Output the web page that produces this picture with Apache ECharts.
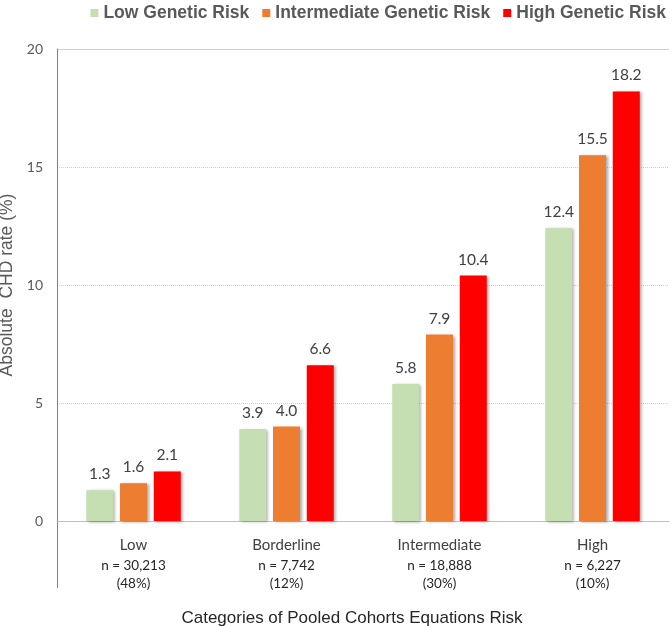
<!DOCTYPE html>
<html>
<head>
<meta charset="utf-8">
<script src="https://cdn.jsdelivr.net/npm/echarts@6/dist/echarts.min.js"></script>
<style>html,body{margin:0;padding:0;background:#fff}#c{width:672px;height:626px}</style>
</head>
<body>
<div id="c"></div>
<script>
var categories = ['Low', 'Borderline', 'Intermediate', 'High'];
var counts = ['n = 30,213', 'n = 7,742', 'n = 18,888', 'n = 6,227'];
var shares = ['(48%)', '(12%)', '(30%)', '(10%)'];
var seriesNames = ['Low Genetic Risk', 'Intermediate Genetic Risk', 'High Genetic Risk'];
var lowGenetic = [1.3, 3.9, 5.8, 12.4];
var intermediateGenetic = [1.6, 4.0, 7.9, 15.5];
var highGenetic = [2.1, 6.6, 10.4, 18.2];
var yTicks = [0, 5, 10, 15, 20];

var colors = ['#c5dfb3', '#ed7d31', '#ff0000'];
var values = [lowGenetic, intermediateGenetic, highGenetic];

var chart = echarts.init(document.getElementById('c'));
var series = values.map(function (v, i) {
  return {
    name: seriesNames[i],
    type: 'bar',
    data: v,
    barWidth: 27,
    barGap: '25%',
    itemStyle: {
      color: colors[i],
      shadowColor: 'rgba(0,0,0,0.35)',
      shadowBlur: 3,
      shadowOffsetX: 2,
      shadowOffsetY: 1
    },
    label: {
      show: true,
      position: 'top',
      distance: 8,
      color: '#404040',
      fontFamily: 'Lato',
      fontSize: 15.5,
      formatter: function (p) { return p.value.toFixed(1); }
    }
  };
});

chart.setOption({
  animation: false,
  color: colors,
  legend: {
    top: -1,
    right: 1,
    icon: 'rect',
    itemWidth: 8,
    itemHeight: 8,
    itemGap: 13,
    data: seriesNames,
    textStyle: { fontFamily: 'Liberation Sans', fontWeight: 'bold', fontSize: 17.5, color: '#595959' }
  },
  grid: { left: 57, right: 3, top: 49, bottom: 105, outerBoundsMode: 'none', containLabel: false },
  xAxis: {
    type: 'category',
    data: categories,
    axisTick: { show: false },
    axisLine: { show: true, lineStyle: { color: '#bfbfbf', width: 1 } },
    axisLabel: {
      margin: 13,
      formatter: function (val, idx) {
        return '{a|' + val + '}\n{b|' + counts[idx] + '}\n{b|' + shares[idx] + '}';
      },
      rich: {
        a: { fontFamily: 'Lato', fontSize: 15, color: '#404040', lineHeight: 23 },
        b: { fontFamily: 'Lato', fontSize: 13.5, color: '#262626', lineHeight: 18 }
      }
    },
    name: 'Categories of Pooled Cohorts Equations Risk',
    nameLocation: 'middle',
    nameGap: 89,
    nameTextStyle: { fontFamily: 'Liberation Sans', fontSize: 17, color: '#262626', padding: [0, 22, 0, 0] }
  },
  yAxis: {
    type: 'value',
    min: yTicks[0],
    max: yTicks[yTicks.length - 1],
    interval: 5,
    axisLine: { show: true, lineStyle: { color: '#808080', width: 1 } },
    axisTick: { show: false },
    axisLabel: { margin: 14, fontFamily: 'Lato', fontSize: 14, color: '#595959' },
    splitLine: { show: true, lineStyle: { color: '#d0d0d0', type: 'dotted', width: 1 } },
    name: 'Absolute  CHD rate (%)',
    nameLocation: 'middle',
    nameGap: 37,
    nameRotate: 90,
    nameTextStyle: { fontFamily: 'Liberation Sans', fontSize: 17.5, color: '#595959' }
  },
  graphic: [
    { type: 'line', shape: { x1: 57.5, y1: 521, x2: 57.5, y2: 588 }, style: { stroke: '#808080', lineWidth: 1 } },
    { type: 'line', shape: { x1: 57, y1: 49.5, x2: 669, y2: 49.5 }, style: { stroke: '#d0d0d0', lineWidth: 1 } }
  ],
  series: series
});
</script>
</body>
</html>
